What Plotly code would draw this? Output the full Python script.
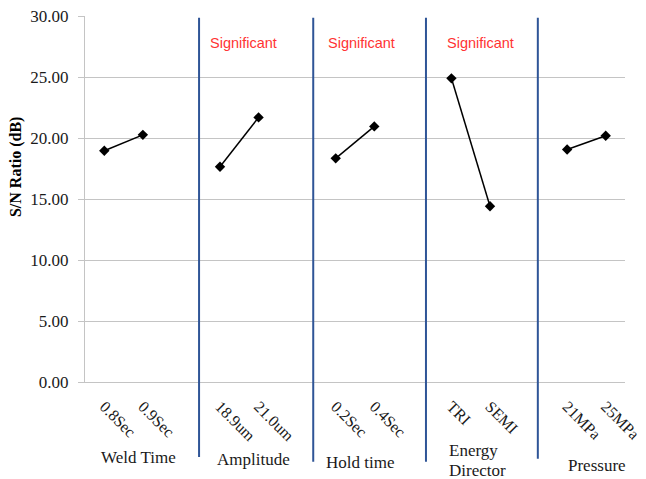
import plotly.graph_objects as go

# ---- data ----
factors = ["Weld Time", "Amplitude", "Hold time", "Energy Director", "Pressure"]
levels = [["0.8Sec", "0.9Sec"], ["18.9um", "21.0um"], ["0.2Sec", "0.4Sec"],
          ["TRI", "SEMI"], ["21MPa", "25MPa"]]
sn_ratio = [[18.95, 20.26], [17.64, 21.69], [18.33, 20.95],
            [24.89, 14.41], [19.06, 20.18]]
significant = [False, True, True, True, False]
y_ticks = [0, 5, 10, 15, 20, 25, 30]

# ---- build category positions (with a blank slot between factors) ----
xs, ys, tickvals, ticktext = [], [], [], []
pos = 0
group_start = []
for gi, (lv, vals) in enumerate(zip(levels, sn_ratio)):
    group_start.append(pos)
    for l, v in zip(lv, vals):
        xs.append(pos); ys.append(v)
        tickvals.append(pos); ticktext.append(l)
        pos += 1
    if gi < len(levels) - 1:
        xs.append(pos); ys.append(None)
        pos += 1
n_slots = pos
x_range = [-0.5, n_slots - 0.5]

fig = go.Figure()
fig.add_trace(go.Scatter(
    x=xs, y=ys, mode="lines+markers", connectgaps=False,
    line=dict(color="black", width=1.5),
    marker=dict(symbol="diamond", size=8, color="black"),
    showlegend=False, hoverinfo="x+y"))

serif = "Liberation Serif, Times New Roman, serif"
grid = "#C4C4C4"

# separators (layout decoration), offsets relative to group start
sep_offsets = [-0.543, -0.583, -0.66, -0.76]
sep_bottom = [-0.205, -0.218, -0.218, -0.210]
shapes = []
for gi in range(1, len(levels)):
    xd = group_start[gi] + sep_offsets[gi - 1]
    xp = (xd - x_range[0]) / (x_range[1] - x_range[0])
    shapes.append(dict(type="line", xref="paper", yref="paper",
                       x0=xp, x1=xp, y0=0.995, y1=sep_bottom[gi - 1],
                       line=dict(color="#2F5597", width=2)))

annotations = []
# factor labels (each word line placed separately)
lab_dx = [0.897, 0.87, 0.64, -0.08, 0.77]
lab_dy = [-0.205, -0.213, -0.219, -0.186, -0.227]
for gi, name in enumerate(factors):
    if gi == 3:
        words = name.split(" ")
        for wi, w in enumerate(words):
            annotations.append(dict(
                x=group_start[gi] + lab_dx[gi], y=lab_dy[gi] - 0.055 * wi,
                xref="x", yref="paper", text=w, showarrow=False,
                xanchor="left", yanchor="middle", borderpad=0,
                font=dict(family=serif, size=17, color="#1a1a1a")))
    else:
        annotations.append(dict(
            x=group_start[gi] + lab_dx[gi], y=lab_dy[gi], xref="x", yref="paper",
            text=name, showarrow=False, xanchor="center", yanchor="middle",
            font=dict(family=serif, size=17, color="#1a1a1a")))
# significance notes
sig_dx = [0, -0.31, -0.25, -0.16, 0]
for gi, s in enumerate(significant):
    if s:
        annotations.append(dict(
            x=group_start[gi] + sig_dx[gi], y=0.927, xref="x", yref="paper",
            text="Significant", showarrow=False, xanchor="left", yanchor="middle",
            font=dict(family="Liberation Sans, Arial, sans-serif", size=14.5,
                      color="#FF3333")))
# y axis title
annotations.append(dict(
    x=-0.128, y=0.587, xref="paper", yref="paper", text="<b>S/N Ratio (dB)</b>",
    textangle=-90, showarrow=False, xanchor="center", yanchor="middle",
    font=dict(family=serif, size=16, color="black")))

# the page body adds an 8px offset, so the figure is 8px smaller and margins shifted
fig.update_layout(
    width=638, height=471,
    margin=dict(l=77, r=21, t=8, b=97, autoexpand=False),
    paper_bgcolor="white", plot_bgcolor="white",
    shapes=shapes, annotations=annotations,
    xaxis=dict(range=x_range, tickvals=tickvals, ticktext=ticktext,
               tickangle=45, showgrid=False, zeroline=False, automargin=False,
               showline=True, linecolor=grid, linewidth=1, ticks="",
               ticklabelstandoff=8,
               tickfont=dict(family=serif, size=16, color="#1a1a1a")),
    yaxis=dict(range=[0, 30], tickvals=y_ticks, tickformat=".2f",
               showgrid=True, gridcolor=grid, gridwidth=1, zeroline=False,
               automargin=False, ticklabeloverflow="allow",
               showline=True, linecolor=grid, linewidth=1,
               ticks="outside", ticklen=6, tickcolor=grid,
               ticklabelstandoff=6,
               tickfont=dict(family=serif, size=17, color="#1a1a1a")),
)

fig.write_html("out.html")
